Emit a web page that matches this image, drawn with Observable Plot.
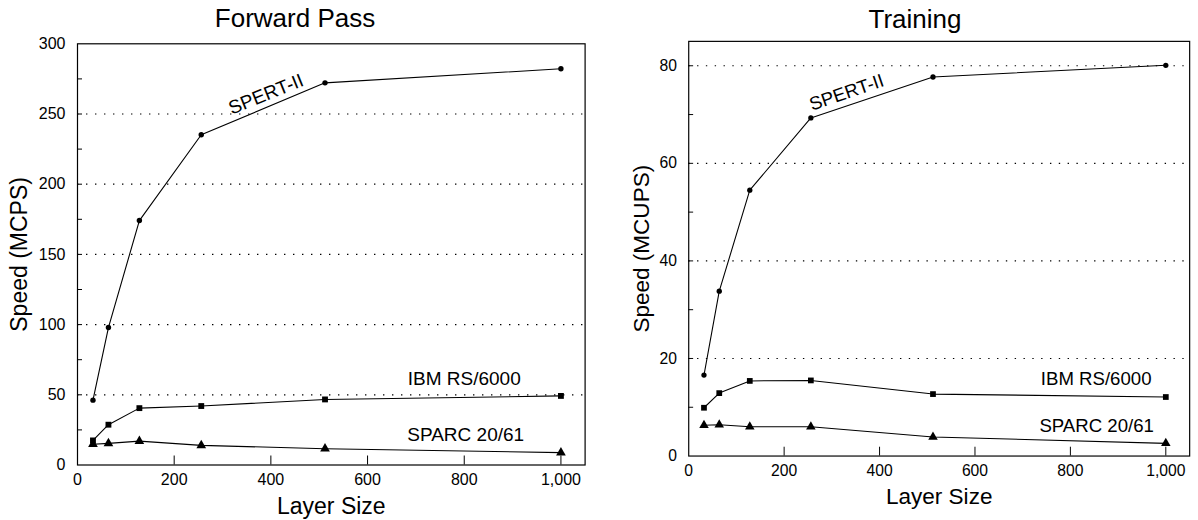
<!DOCTYPE html>
<html><head><meta charset="utf-8">
<script src="https://cdn.jsdelivr.net/npm/d3@7"></script>
<script src="https://cdn.jsdelivr.net/npm/@observablehq/plot@0.6"></script>
<style>
html,body{margin:0;padding:0;background:#fff;}
body{width:1198px;height:520px;overflow:hidden;font-family:"Liberation Sans",Arial,sans-serif;}
#wrap{position:relative;width:1198px;height:520px;overflow:hidden;}
.title{position:absolute;font-size:26px;line-height:26px;color:#000;white-space:nowrap;transform:translateX(-50%);}
.panel{position:absolute;top:0;}
</style></head><body><div id="wrap"></div>
<script>
// ---- data ----
const layerSizes = [32, 64, 128, 256, 512, 1000];
const seriesNames = ["SPERT-II", "IBM RS/6000", "SPARC 20/61"];

const fwdSpert = [46.2, 97.9, 174.1, 235.2, 272.2, 282.2];
const fwdIbm   = [17.5, 28.7, 40.5, 42.0, 46.7, 49.2];
const fwdSparc = [14.8, 15.4, 17.0, 14.0, 11.6, 8.8];

const trnSpert = [16.6, 33.8, 54.5, 69.3, 77.7, 80.1];
const trnIbm   = [9.9, 12.9, 15.4, 15.5, 12.7, 12.1];
const trnSparc = [6.3, 6.4, 6.0, 6.0, 3.9, 2.6];

const xTickLabels = [0, 200, 400, 600, 800, 1000];
const fwdYTickLabels = [0, 50, 100, 150, 200, 250, 300];
const trnYTickLabels = [0, 20, 40, 60, 80];

// label annotations (data coordinates)
const fwdLabelX = [390, 800, 803];
const fwdLabelY = [264, 61, 21.5];
const trnLabelX = [331, 854, 855];
const trnLabelY = [74.5, 15.7, 6.2];

const FONT = '"Liberation Sans", Arial, sans-serif';
const symbols = ["circle", "square", "triangle"];
const radii = [2.7, 3.3, 3.6];

function build(cfg) {
  const series = [cfg.spert, cfg.ibm, cfg.sparc].map((vals, i) =>
    layerSizes.map((x, j) => ({series: seriesNames[i], x, y: vals[j]})));
  const labels = seriesNames.map((name, i) => ({name, x: cfg.labelX[i], y: cfg.labelY[i], rot: i === 0 ? cfg.spertRot : 0}));
  const plotW = cfg.width - cfg.marginLeft - cfg.marginRight;
  const plotH = cfg.height - cfg.marginTop - cfg.marginBottom;
  const minorY = d3.range(cfg.yMinor, cfg.yMax, cfg.yMinor);
  const gridY = cfg.yTicks.filter(v => v > 0 && v < cfg.yMax);
  const marks = [
    Plot.ruleY(gridY, {stroke: "#000", strokeWidth: 1.2, strokeDasharray: "1.4,7.6"}),
    Plot.ruleY(minorY, {stroke: "#000", insetRight: plotW - 5}),
    Plot.ruleX(xTickLabels.filter(v => v > 0), {stroke: "#000", insetTop: plotH - 9}),
    Plot.axisX({ticks: xTickLabels, tickSize: 0, tickPadding: 9, tickFormat: d3.format(","), label: null}),
    Plot.axisY({ticks: cfg.yTicks, tickSize: 0, tickPadding: 12, label: null}),
    Plot.text([cfg.xLabel], {frameAnchor: "bottom", textAnchor: "middle", lineAnchor: "bottom", dy: 48.5, fontSize: 23}),
    Plot.text([cfg.yLabel], {frameAnchor: "left", textAnchor: "middle", rotate: -90, lineAnchor: "middle", dx: cfg.yLabelDx, fontSize: 23}),
    ...series.map(d => Plot.line(d, {x: "x", y: "y", stroke: "#000", strokeWidth: 1.1})),
    ...series.map((d, i) => Plot.dot(d, {x: "x", y: "y", symbol: symbols[i], r: radii[i], fill: "#000", stroke: "none"})),
    Plot.text(labels, {x: "x", y: "y", text: "name", rotate: "rot", fontSize: 19}),
    Plot.frame({stroke: "#000", strokeWidth: 1.2})
  ];
  return Plot.plot({
    width: cfg.width, height: cfg.height,
    marginLeft: cfg.marginLeft, marginRight: cfg.marginRight,
    marginTop: cfg.marginTop, marginBottom: cfg.marginBottom,
    style: {fontFamily: FONT, fontSize: "16px", color: "#000", background: "transparent", overflow: "visible"},
    x: {domain: [0, 1050]},
    y: {domain: [0, cfg.yMax]},
    marks
  });
}

const wrap = document.getElementById("wrap");

function addPanel(cfg) {
  const div = document.createElement("div");
  div.className = "panel";
  div.style.left = cfg.left + "px";
  div.appendChild(build(cfg));
  wrap.appendChild(div);
  const t = document.createElement("div");
  t.className = "title";
  t.textContent = cfg.title;
  t.style.left = cfg.titleX + "px";
  t.style.top = cfg.titleTop + "px";
  wrap.appendChild(t);
}

addPanel({
  title: "Forward Pass", titleX: 295, titleTop: 4.5,
  left: 0, width: 600, height: 520,
  marginLeft: 77, marginRight: 15.4, marginTop: 43.3, marginBottom: 55.5,
  yMax: 300, yTicks: fwdYTickLabels, yMinor: 25,
  spert: fwdSpert, ibm: fwdIbm, sparc: fwdSparc,
  labelX: fwdLabelX, labelY: fwdLabelY, spertRot: -22,
  xLabel: "Layer Size", yLabel: "Speed (MCPS)", yLabelDx: -58
});

addPanel({
  title: "Training", titleX: 915, titleTop: 6,
  left: 600, width: 610, height: 520,
  marginLeft: 90, marginRight: 9, marginTop: 41.7, marginBottom: 55.3,
  yMax: 85, yTicks: trnYTickLabels, yMinor: 10,
  spert: trnSpert, ibm: trnIbm, sparc: trnSparc,
  labelX: trnLabelX, labelY: trnLabelY, spertRot: -19,
  xLabel: "Layer Size", yLabel: "Speed (MCUPS)", yLabelDx: -48
});
</script>
</body></html>
